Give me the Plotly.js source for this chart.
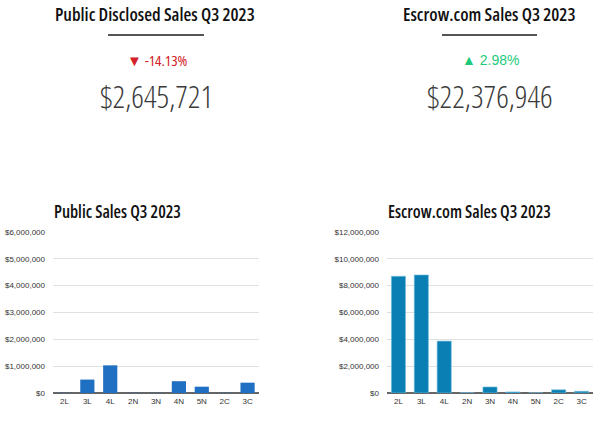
<!DOCTYPE html>
<html>
<head>
<meta charset="utf-8">
<script src="https://cdn.plot.ly/plotly-3.0.1.min.js"></script>
<style>
html,body{margin:0;padding:0;background:#fff;}
#chart{width:600px;height:429px;}
.annotation-text{font-stretch:75%;}
</style>
</head>
<body>
<div id="chart"></div>
<script>
const categories = ["2L","3L","4L","2N","3N","4N","5N","2C","3C"];
const publicSales = [8000, 500000, 1030000, 8000, 5000, 440000, 235000, 8000, 385000];
const escrowSales = [8700000, 8800000, 3870000, 20000, 450000, 80000, 10000, 240000, 130000];
const publicTickVals = [0,1000000,2000000,3000000,4000000,5000000,6000000];
const publicTickText = ["$0","$1,000,000","$2,000,000","$3,000,000","$4,000,000","$5,000,000","$6,000,000"];
const escrowTickVals = [0,2000000,4000000,6000000,8000000,10000000,12000000];
const escrowTickText = ["$0","$2,000,000","$4,000,000","$6,000,000","$8,000,000","$10,000,000","$12,000,000"];
const headers = ["Public Disclosed Sales Q3 2023","Escrow.com Sales Q3 2023"];
const changes = ["▼ -14.13%","▲ 2.98%"];
const totals = ["$2,645,721","$22,376,946"];
const chartTitles = ["Public Sales Q3 2023","Escrow.com Sales Q3 2023"];

const W = 600, H = 429;
const px = x => x / W;
const py = y => 1 - y / H;
const COND = "Open Sans, Roboto, sans-serif";

const traces = [
  {type:"bar", x:categories, y:publicSales, xaxis:"x", yaxis:"y",
   marker:{color:"#1f6fc2", line:{width:0}}, hoverinfo:"x+y"},
  {type:"bar", x:categories, y:escrowSales, xaxis:"x2", yaxis:"y2",
   marker:{color:"#0a7fb4", line:{color:"#7cc3e3", width:0.6}}, hoverinfo:"x+y"}
];

const axisCommon = {
  showgrid:true, gridcolor:"#e0e0e0", gridwidth:1,
  zeroline:true, zerolinecolor:"#666", zerolinewidth:1.5,
  tickfont:{family:"Liberation Sans, Arial, sans-serif", size:8, color:"#333"},
  ticks:"", showline:false, fixedrange:true, ticklabelstandoff:7
};
const xCommon = {
  type:"category", showgrid:false, zeroline:false, showline:false, ticks:"",
  tickfont:{family:"Liberation Sans, Arial, sans-serif", size:8, color:"#333"},
  fixedrange:true, ticklabelstandoff:2
};

const layout = {
  width:W, height:H,
  margin:{l:0,r:0,t:0,b:0},
  paper_bgcolor:"#fff", plot_bgcolor:"#fff",
  showlegend:false,
  bargap:0.38,
  xaxis:Object.assign({}, xCommon, {domain:[px(53), px(259)], anchor:"y"}),
  yaxis:Object.assign({}, axisCommon, {domain:[py(393), py(232)], range:[0,6000000], anchor:"x",
    tickvals:publicTickVals, ticktext:publicTickText}),
  xaxis2:Object.assign({}, xCommon, {domain:[px(387), px(593)], anchor:"y2"}),
  yaxis2:Object.assign({}, axisCommon, {domain:[py(393), py(232)], range:[0,12000000], anchor:"x2",
    tickvals:escrowTickVals, ticktext:escrowTickText}),
  shapes:[
    {type:"line", xref:"paper", yref:"paper", x0:px(108), x1:px(204), y0:py(35), y1:py(35), line:{color:"#555", width:2}},
    {type:"line", xref:"paper", yref:"paper", x0:px(442), x1:px(537), y0:py(35), y1:py(35), line:{color:"#555", width:2}}
  ],
  annotations:[
    {text:headers[0], xref:"paper", yref:"paper", x:px(155), y:py(14), xanchor:"center", yanchor:"middle", showarrow:false,
     font:{family:COND, size:18, color:"#111", weight:600}},
    {text:headers[1], xref:"paper", yref:"paper", x:px(489), y:py(14), xanchor:"center", yanchor:"middle", showarrow:false,
     font:{family:COND, size:18, color:"#111", weight:600}},
    {text:changes[0], xref:"paper", yref:"paper", x:px(157), y:py(60), xanchor:"center", yanchor:"middle", showarrow:false,
     font:{family:COND, size:15, color:"#d42027", weight:500}},
    {text:changes[1], xref:"paper", yref:"paper", x:px(490), y:py(60), xanchor:"center", yanchor:"middle", showarrow:false,
     font:{family:"Liberation Sans, Arial, sans-serif", size:14, color:"#1dc97a"}},
    {text:totals[0], xref:"paper", yref:"paper", x:px(156), y:py(96), xanchor:"center", yanchor:"middle", showarrow:false,
     font:{family:COND, size:31, color:"#3a3a3a", weight:300}},
    {text:totals[1], xref:"paper", yref:"paper", x:px(490), y:py(96), xanchor:"center", yanchor:"middle", showarrow:false,
     font:{family:COND, size:31, color:"#3a3a3a", weight:300}},
    {text:chartTitles[0], xref:"paper", yref:"paper", x:px(52), y:py(212), xanchor:"left", yanchor:"middle", showarrow:false,
     font:{family:COND, size:17, color:"#111", weight:600}},
    {text:chartTitles[1], xref:"paper", yref:"paper", x:px(386), y:py(212), xanchor:"left", yanchor:"middle", showarrow:false,
     font:{family:COND, size:17, color:"#111", weight:600}}
  ]
};

Plotly.newPlot("chart", traces, layout, {displayModeBar:false, staticPlot:true});
</script>
</body>
</html>
